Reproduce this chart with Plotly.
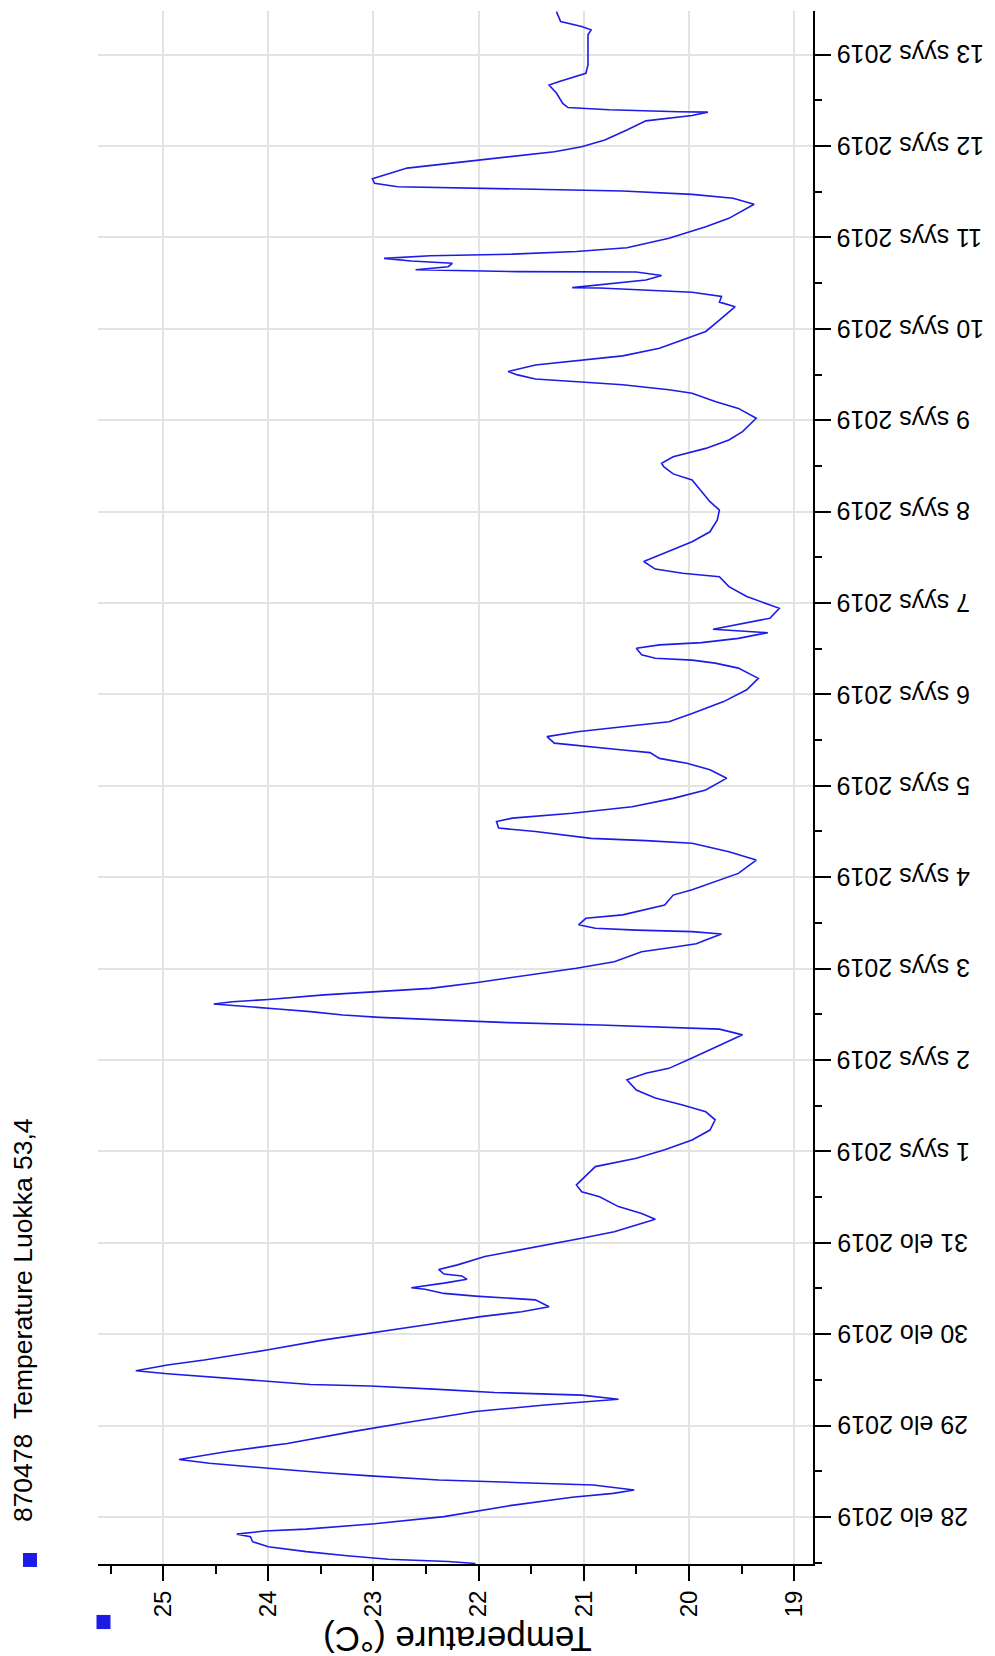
import pandas as pd
import plotly.graph_objects as go

# ---- data (hours after 28 Aug 2019 00:00, temperature in °C) ----
hours_from_28aug = [
    -12.2, -11.7, -11.1, -10.2, -9.1, -7.8, -6.5, -5.2, -4.5, -3.7, -3.2, -1.8, 0.1, 2.9, 5.2, 6.2, 7.1,
    8.4, 9.0, 9.7, 10.8, 11.6, 12.8, 14.1, 15.1, 17.2, 19.3, 22.4, 25.0, 27.7, 29.4, 30.3, 30.9,
    32.0, 32.7, 33.5, 34.4, 34.8, 36.0, 36.8, 37.6, 38.4, 39.9, 41.2, 43.9, 46.5, 48.4, 50.4, 52.6,
    53.9, 55.2, 57.0, 58.0, 58.7, 59.8, 60.2, 61.4, 62.4, 63.3, 63.8, 65.0, 66.2, 68.4, 69.7,
    71.9, 73.2, 74.9, 77.1, 78.2, 79.7, 81.5, 84.1, 85.4, 87.2, 92.0, 94.2, 96.4, 99.0, 101.6, 104.3,
    106.4, 108.2, 110.0, 112.1, 114.8, 116.5, 117.8, 120.5, 123.9, 126.6, 128.1, 128.5, 129.2, 129.8,
    130.5, 131.2, 131.8, 132.7, 133.4, 134.0, 134.5, 134.7, 135.3, 135.9, 137.1, 137.9, 138.8, 140.3,
    142.3, 144.1, 145.8, 148.4, 149.6, 150.5, 151.5,
    153.1, 153.7, 154.1, 154.6, 155.5, 157.2, 158.1, 160.7, 163.3, 164.7, 166.8, 169.0, 172.5, 174.7,
    176.9, 177.6, 178.2, 180.0, 180.9, 182.6, 183.5, 184.8, 186.5, 188.7, 190.9, 194.0, 196.2, 197.9,
    199.2, 200.7, 201.4, 202.7, 203.2, 204.9, 206.2, 207.5, 208.8, 211.0, 214.1, 217.2, 220.2, 222.9,
    224.2, 225.0, 225.5, 226.4, 228.1, 229.0, 229.6, 230.7, 232.2,
    233.1, 234.7, 236.0, 238.6, 239.9, 241.7, 244.3, 246.9, 247.8, 248.9, 250.9, 252.6, 256.1, 258.7,
    261.8, 264.4, 266.6, 272.3, 273.9, 275.8, 276.7, 278.4, 280.6, 282.8, 285.0, 288.5, 291.1, 292.9,
    295.1, 296.0, 297.3, 298.1, 298.8, 299.9, 300.8, 302.5, 303.8, 304.9, 306.9, 309.5, 311.3, 314.3,
    317.8, 319.0, 320.5, 321.6, 322.2, 322.7, 322.8, 323.7, 324.8, 326.0, 326.9, 327.0, 327.5, 328.3,
    329.2, 329.8, 330.5, 331.2, 331.6, 332.3, 333.3, 335.8, 338.8, 341.0, 344.7, 346.3, 347.3, 348.2,
    348.9, 349.3, 350.2, 351.4, 354.2, 355.5, 356.8, 358.5, 359.8, 361.6, 364.2, 366.6, 368.0, 368.9,
    369.0, 369.5, 370.1, 371.2, 373.9, 376.0, 376.9, 379.1, 381.3, 389.2, 390.5, 391.4, 392.7, 395.3,
]
temperature_c = [
    22.03, 22.29, 22.86, 23.25, 23.64, 24.00, 24.15, 24.17, 24.30, 24.04, 23.64, 22.99, 22.33, 21.72, 21.11, 20.72, 20.52,
    20.91, 21.59, 22.38, 23.03, 23.47, 24.00, 24.56, 24.85, 24.39, 23.82, 23.20, 22.64, 22.03, 21.37, 20.91, 20.67,
    21.02, 21.85, 22.38, 23.03, 23.60, 24.21, 24.56, 24.96, 25.26, 24.96, 24.61, 24.00, 23.47, 22.99, 22.51, 21.98,
    21.59, 21.33, 21.46, 22.03, 22.33, 22.51, 22.64, 22.33, 22.11, 22.16, 22.33, 22.38, 22.20, 21.94, 21.68,
    21.28, 21.02, 20.71, 20.45, 20.32, 20.45, 20.67, 20.85, 21.02, 21.07, 20.89, 20.50, 20.23, 19.97, 19.80, 19.75,
    19.84, 20.06, 20.32, 20.50, 20.59, 20.41, 20.19, 19.97, 19.71, 19.49, 19.71, 20.10, 20.85, 21.72,
    22.42, 22.94, 23.29, 23.60, 23.91, 24.17, 24.39, 24.52, 24.34, 24.00, 23.47, 23.03, 22.46, 22.03,
    21.50, 21.07, 20.71, 20.45, 20.15, 19.93, 19.84,
    19.69, 19.97, 20.50, 20.89, 21.05, 20.98, 20.63, 20.23, 20.15, 19.97, 19.75, 19.53, 19.36, 19.62,
    19.97, 20.41, 20.93, 21.46, 21.81, 21.83, 21.68, 21.11, 20.54, 20.15, 19.84, 19.64, 19.80, 20.02,
    20.28, 20.37, 20.63, 21.06, 21.28, 21.35, 21.06, 20.63, 20.19, 19.97, 19.67, 19.45, 19.34, 19.53,
    19.75, 19.97, 20.32, 20.45, 20.50, 20.28, 19.88, 19.53, 19.25,
    19.77, 19.49, 19.23, 19.14, 19.27, 19.45, 19.62, 19.71, 20.06, 20.32, 20.43, 20.28, 19.97, 19.80,
    19.73, 19.71, 19.80, 19.97, 20.15, 20.24, 20.26, 20.15, 19.84, 19.62, 19.49, 19.36, 19.53, 19.75,
    19.97, 20.19, 20.63, 21.06, 21.46, 21.63, 21.72, 21.46, 20.98, 20.63, 20.28, 20.02, 19.84, 19.71,
    19.56, 19.71, 19.69, 19.97, 20.41, 20.85, 21.11, 20.80, 20.41, 20.26, 20.50, 21.63, 22.60, 22.29,
    22.25, 22.64, 22.90, 22.46, 21.68, 21.07, 20.59, 20.19, 19.84, 19.62, 19.38, 19.58, 19.97, 20.63,
    21.81, 22.77, 22.99, 23.01, 22.68, 22.25, 21.81, 21.28, 21.02, 20.80, 20.59, 20.41, 19.97, 19.82,
    20.10, 20.76, 21.15, 21.20, 21.26, 21.33, 21.24, 20.98, 20.96, 20.96, 20.93, 21.02, 21.22, 21.26,
]

series_name = "870478\u00a0\u00a0Temperature Luokka 53,4"
axis_title = "Temperature (°C)"
fi_month_abbr = {8: "elo", 9: "syys"}
tick_days = pd.date_range("2019-08-28", "2019-09-13", freq="D")
tick_labels = [f"{d.day} {fi_month_abbr[d.month]} {d.year}" for d in tick_days]
temp_ticks = [19, 20, 21, 22, 23, 24, 25]

start = pd.Timestamp("2019-08-28 00:00")
times = [start + pd.Timedelta(hours=h) for h in hours_from_28aug]

LINE = "rgb(28,28,228)"
FONT = "Liberation Sans, Arial, sans-serif"
GRID = "#e3e3e3"

fig = go.Figure()
fig.add_trace(go.Scatter(
    x=temperature_c, y=times, mode="lines",
    line=dict(color=LINE, width=1.6), showlegend=False, name=series_name,
))

fig.update_layout(
    width=995, height=1656,
    margin=dict(l=90, r=190, t=3, b=100),
    paper_bgcolor="white", plot_bgcolor="white",
    font=dict(family=FONT, color="black", size=24),
    showlegend=False,
)

fig.update_xaxes(
    range=[25.62, 18.82], autorange=False, automargin=False,
    tickmode="array", tickvals=temp_ticks, ticktext=[str(v) for v in temp_ticks],
    tickangle=-90, tickfont=dict(size=24, family=FONT),
    ticks="outside", ticklen=15, tickwidth=2, tickcolor="black",
    showline=True, linecolor="black", linewidth=2,
    showgrid=True, gridcolor=GRID, gridwidth=2, zeroline=False,
    minor=dict(tickmode="linear", tick0=0, dtick=0.5, ticks="outside", ticklen=8,
               tickwidth=2, tickcolor="black", showgrid=False),
)

fig.update_yaxes(
    type="date", side="right", automargin=False,
    range=["2019-08-27 11:39", "2019-09-13 11:27"], autorange=False,
    tickmode="array", tickvals=list(tick_days), showticklabels=False,
    ticks="outside", ticklen=16, tickwidth=2, tickcolor="black",
    showline=True, linecolor="black", linewidth=2,
    showgrid=True, gridcolor=GRID, gridwidth=2, zeroline=False,
    minor=dict(tickmode="linear", tick0="2019-08-27 12:00", dtick=12 * 3600 * 1000,
               ticks="outside", ticklen=7, tickwidth=2, tickcolor="black", showgrid=False),
)

# upside-down date labels next to the date axis
for d, lab in zip(tick_days, tick_labels):
    fig.add_annotation(
        text=lab, textangle=180, showarrow=False,
        xref="paper", yref="y", x=1.0308, y=d,
        xanchor="left", yanchor="middle",
        font=dict(size=25, family=FONT, color="black"),
    )

# upside-down axis title below the temperature axis
fig.add_annotation(
    text=axis_title, textangle=180, showarrow=False,
    xref="paper", yref="paper", x=0.502, y=-0.0486,
    xanchor="center", yanchor="middle",
    font=dict(size=35, family=FONT, color="black"),
)

# vertical legend on the left
fig.add_annotation(
    text=series_name, textangle=-90, showarrow=False,
    xref="paper", yref="paper", x=-0.105, y=0.157,
    xanchor="center", yanchor="middle",
    font=dict(size=26.5, family=FONT, color="black"),
)
fig.add_shape(type="rect", xref="paper", yref="paper",
              x0=-0.1049, x1=-0.0853, y0=-0.0019, y1=0.0071,
              fillcolor=LINE, line=dict(width=0))
fig.add_shape(type="rect", xref="paper", yref="paper",
              x0=-0.0021, x1=0.0175, y0=-0.0419, y1=-0.0328,
              fillcolor=LINE, line=dict(width=0))

fig.write_html("out.html")
